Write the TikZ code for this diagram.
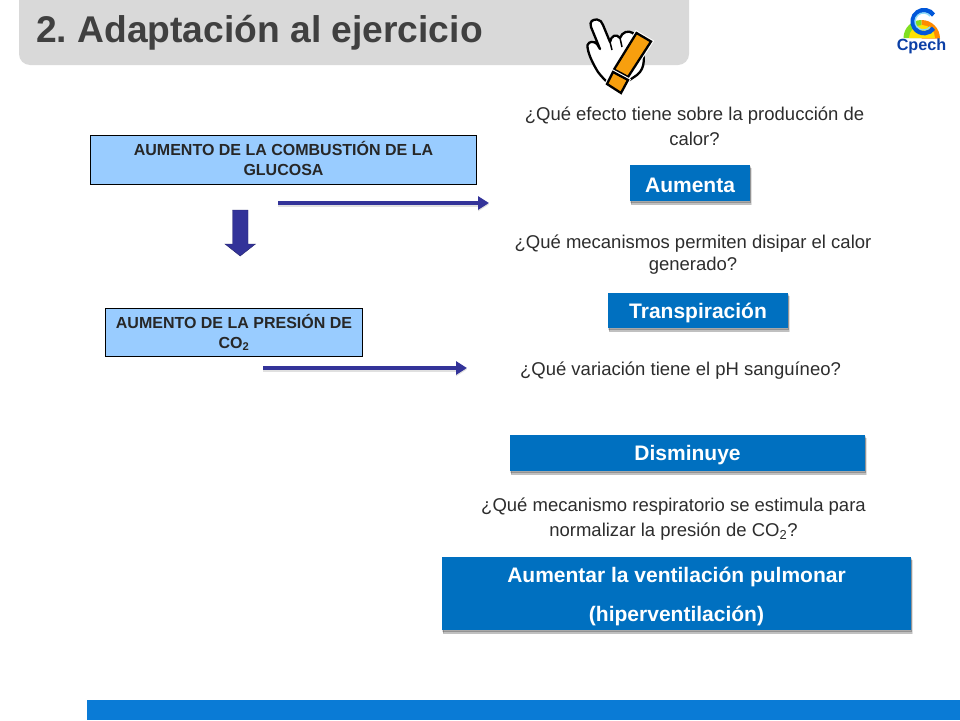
\documentclass[tikz,border=0pt]{standalone}
\usepackage{fontspec}
\setmainfont{Liberation Sans}
\frenchspacing
\usetikzlibrary{arrows.meta,shadows,calc}
\definecolor{hdr}{HTML}{D9D9D9}
\definecolor{ttl}{HTML}{404040}
\definecolor{bar}{HTML}{0A7BD6}
\definecolor{ans}{HTML}{0070C0}
\definecolor{lblue}{HTML}{99CCFF}
\definecolor{arr}{HTML}{333399}
\definecolor{orng}{HTML}{F79F0E}
\definecolor{cpb}{HTML}{0B3FA6}
\tikzset{
  x=1pt,y=-1pt,
  ansbox/.style={fill=ans,draw=none,inner sep=0,outer sep=0,align=center,
    font=\bfseries\fontsize{21}{39}\selectfont,text=white,
    double copy shadow={shadow xshift=.5pt,shadow yshift=-1.5pt,fill=black,opacity=.12},
    drop shadow={shadow xshift=.5pt,shadow yshift=-3.5pt,fill=black,opacity=.14}},
  askbox/.style={fill=lblue,draw=black,line width=.8pt,inner sep=0,outer sep=0,align=center,
    font=\bfseries\fontsize{16}{19.5}\selectfont,text=ttl!60!black},
  question/.style={align=center,inner sep=0,text=ttl!70!black},
  qwide/.style={question,font=\fontsize{18.5}{25}\selectfont},
  qtight/.style={question,font=\fontsize{18.5}{22}\selectfont},
  linkarrow/.style={draw=arr,line width=4pt,-{Triangle[length=11pt,width=13pt]},
    preaction={draw=black,opacity=.12,transform canvas={yshift=-1.5pt},line width=4pt}},
}
\newcommand{\lowtext}[1]{\raisebox{-2.5pt}[\height][\depth]{#1}}
\newcommand{\hightext}[1]{\raisebox{1.5pt}[\height][\depth]{#1}}
\begin{document}
\begin{tikzpicture}
\useasboundingbox (0,0) rectangle (960,720);
\fill[white] (0,0) rectangle (960,720);
% header
\fill[hdr,rounded corners=11pt] (19,-20) rectangle (689,65);
\node[anchor=west,inner sep=0,font=\bfseries\fontsize{37.2}{40}\selectfont,text=ttl] (title) at (36,33) {2. Adaptación al ejercicio};
% bottom bar
\fill[bar] (87,700) rectangle (960,720);
% hand icon
\draw[fill=white,draw=black,line width=2.3pt,line join=round]
  (587.5,45) .. controls (589,41) and (594,41) .. (597,44)
  -- (600,49) -- (591,27) .. controls (589,21) and (593,19.5) .. (597,19.5)
  .. controls (600,19.5) and (602,22) .. (603,25)
  -- (610,42) .. controls (611,36) and (616,33) .. (620,38)
  .. controls (622,32) and (628,30) .. (633,33)
  -- (640,45) .. controls (645,55) and (646,68) .. (637,75)
  -- (618,88) .. controls (612,87) and (604,80) .. (598,72)
  .. controls (593,64) and (587,52) .. (587.5,45) -- cycle;
\draw[line width=1.5pt] (610,42) -- (612,50);
\draw[line width=1.5pt] (620,38) -- (622,47);
% exclamation
\draw[fill=orng,draw=white,line width=4.5pt,line join=miter] (636.5,33) -- (651,41.5) -- (628,77) -- (614,69.5) -- cycle;
\draw[fill=orng,draw=black,line width=2.3pt,line join=miter] (636.5,33) -- (651,41.5) -- (628,77) -- (614,69.5) -- cycle;
\draw[draw=white,line width=4.5pt] (613,72) -- (628,80) -- (621,93) -- (607,84) -- cycle;
\draw[fill=orng,draw=black,line width=2.3pt,line join=miter] (613,72) -- (628,80) -- (621,93) -- (607,84) -- cycle;
% logo
\fill[green!50!yellow!75!gray] (903.5,38) arc[start angle=180,end angle=90,radius=18pt] -- ++(0,18) -- cycle;
\fill[orange!90!yellow] (921.5,20) arc[start angle=90,end angle=0,radius=18.5pt] -- ++(-18.5,0) -- cycle;
\fill[yellow!85!orange] (909,38) arc[start angle=180,end angle=0,radius=13pt] -- cycle;
\draw[line width=4.5pt,color=blue!60!cyan!85!black] (933.5,15) arc[start angle=35,end angle=325,radius=11.5pt];
\draw[line width=1.4pt,color=cyan!45!white] (930,16) arc[start angle=40,end angle=320,radius=8.5pt];
\node[inner sep=0,font=\bfseries\fontsize{16.2}{18}\selectfont,text=cpb] (logo) at (921.5,46) {Cpech};
% left boxes
\node[askbox,minimum width=386pt,minimum height=49pt] (glucosa) at (283.5,160) {\hightext{AUMENTO DE LA COMBUSTIÓN DE LA}\\\hightext{GLUCOSA}};
\node[askbox,minimum width=257pt,minimum height=48.5pt] (presion) at (234,332.5) {AUMENTO DE LA PRESIÓN DE\\CO\textsubscript{2}};
% block arrow
\fill[arr,draw=arr!70!black,line width=.4pt] (232.5,210) -- (248,210) -- (248,244) -- (255.5,244) -- (240.2,256) -- (225,244) -- (232.5,244) -- cycle;
% questions
\node[qwide] (q1) at (694.5,126) {¿Qué efecto tiene sobre la producción de\\calor?};
\node[ansbox,minimum width=120pt,minimum height=36pt] (a1) at (690,183) {\lowtext{Aumenta}};
\node[qtight] (q2) at (693,255) {¿Qué mecanismos permiten disipar el calor\\generado?};
\node[ansbox,minimum width=180pt,minimum height=35pt] (a2) at (698,310.5) {\lowtext{Transpiración}};
\node[qtight] (q3) at (680.5,371) {¿Qué variación tiene el pH sanguíneo?};
\node[ansbox,minimum width=355pt,minimum height=36pt] (a3) at (687.5,453) {\lowtext{Disminuye}};
\node[qwide] (q4) at (673.5,519) {¿Qué mecanismo respiratorio se estimula para\\normalizar la presión de CO\textsubscript{2}?};
\node[ansbox,minimum width=469pt,minimum height=73pt] (a4) at (676.5,593.5) {\lowtext{Aumentar la ventilación pulmonar}\\\lowtext{(hiperventilación)}};
% arrows
\coordinate (s1) at (278,203);
\coordinate (e1) at (489,203);
\coordinate (s2) at (263,368);
\coordinate (e2) at (467,368);
\draw[linkarrow] (s1) -- (e1);
\draw[linkarrow] (s2) -- (e2);
\end{tikzpicture}
\end{document}
